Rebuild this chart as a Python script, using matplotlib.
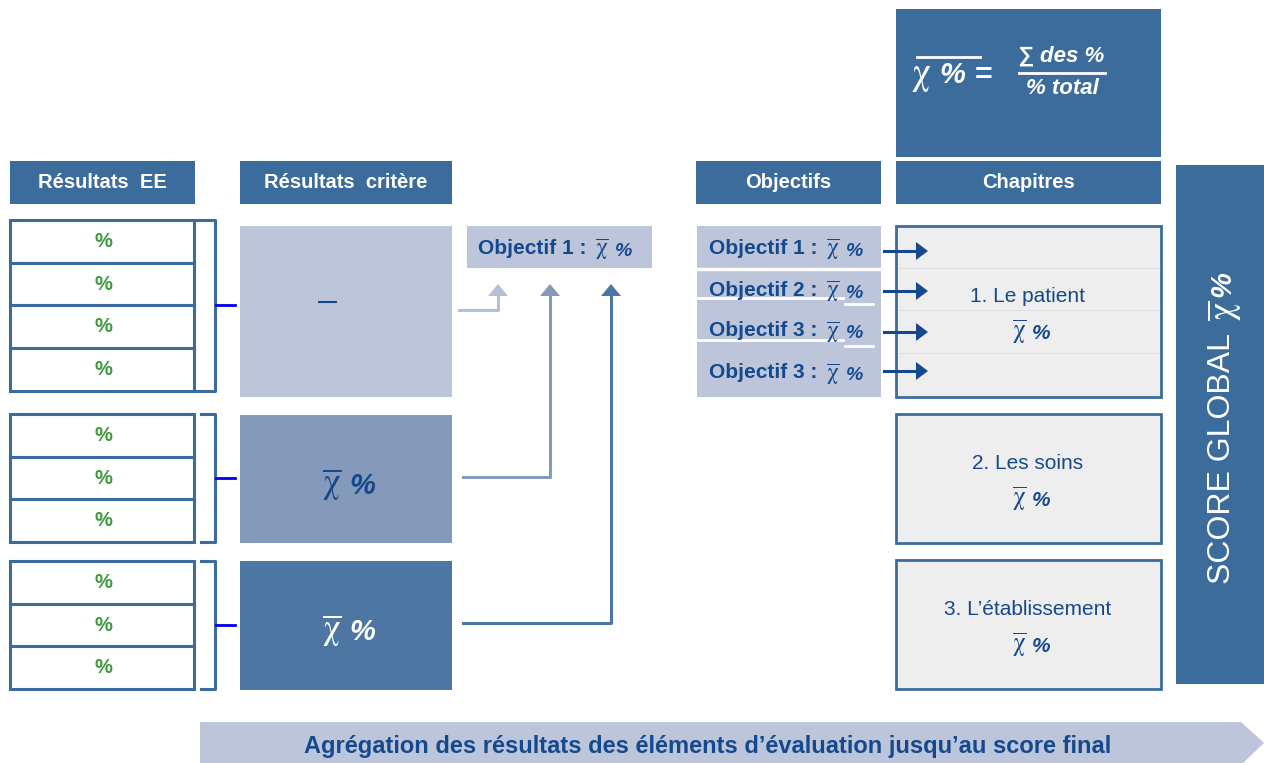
#PURPOSE: diagram of how evaluation results are aggregated up to the global score

import matplotlib.pyplot as plt
from matplotlib.patches import Rectangle, Polygon

plt.rcParams['font.family'] = ['Liberation Sans', 'DejaVu Sans']

# labels of the diagram
headers = ['Résultats  EE', 'Résultats  critère', 'Objectifs', 'Chapitres']
ee_counts = [4, 3, 3]          # number of EE results per criterion
ee_label = '%'
objectives = ['Objectif 1 :', 'Objectif 2 :', 'Objectif 3 :', 'Objectif 3 :']
single_objective = 'Objectif 1 :'
chapters = ['1. Le patient', '2. Les soins', '3. L’établissement']
score_label = 'SCORE GLOBAL'
formula_top = '∑ des %'
formula_bottom = '% total'
footer = 'Agrégation des résultats des éléments d’évaluation jusqu’au score final'

# colours
dark = '#3C6C9C'
light = '#BCC5DA'
medium = '#8599BA'
deep = '#4E76A3'
navy = '#15498E'
green = '#3F9A3F'

CHI = r'$\overline{\mathrm{\chi}}$'
MATHFONT = 'stix'

fig = plt.figure(figsize=(12.64, 7.63), dpi=100)
ax = fig.add_axes([0, 0, 1, 1])
ax.set_xlim(0, 1264)
ax.set_ylim(763, 0)
ax.axis('off')


def box(x0, x1, y0, y1, fc, ec='none', lw=0):
    '''draw a rectangle given its pixel edges'''
    ax.add_patch(Rectangle((x0, y0), x1 - x0, y1 - y0, facecolor=fc,
                           edgecolor=ec, linewidth=lw))


def chi_pct(x, y, size, color):
    '''write "chi bar %" with the join between the two signs at x'''
    ax.text(x, y - size * 0.1, CHI, math_fontfamily=MATHFONT, fontsize=size * 1.2,
            color=color, ha='right', va='center')
    ax.text(x + size * 0.4, y, '%', fontsize=size, fontweight='bold',
            style='italic', color=color, ha='left', va='center')


#headers
header_x = [(10, 195), (240, 452), (696, 881), (896, 1161)]
for (x0, x1), label in zip(header_x, headers):
    box(x0, x1, 161, 204, dark)
    ax.text((x0 + x1) / 2, 183, label, color='white', fontsize=14.5,
            fontweight='bold', ha='center', va='center')

#formula box
box(896, 1161, 9, 157, dark)
ax.text(931, 76, r'$\mathrm{\chi}$', math_fontfamily=MATHFONT, fontsize=27,
        color='white', ha='right', va='center')
ax.text(939, 75, '%', fontsize=21, fontweight='bold', style='italic',
        color='white', ha='left', va='center')
ax.plot([917, 980], [57, 57], color='white', lw=2)
ax.text(984, 76, '=', fontsize=22, fontweight='bold', color='white',
        ha='center', va='center')
ax.text(1061, 56, formula_top, fontsize=16, fontweight='bold', style='italic',
        color='white', ha='center', va='center')
ax.plot([1019, 1105], [73, 73], color='white', lw=2)
ax.text(1062, 88, formula_bottom, fontsize=16, fontweight='bold', style='italic',
        color='white', ha='center', va='center')

#EE results with their brackets
group_tops = [220, 414, 561]
row_h = 42.7
for g, (top, n) in enumerate(zip(group_tops, ee_counts)):
    for i in range(n):
        y0 = top + i * row_h
        box(10, 194, y0, y0 + row_h, 'white', dark, 2.2)
        ax.text(103, y0 + row_h / 2, ee_label, color=green, fontsize=14.5,
                fontweight='bold', ha='center', va='center')
    bottom = top + n * row_h
    bx0 = 194 if g == 0 else 201
    ax.plot([bx0, 215, 215, bx0], [top, top, bottom, bottom], color=dark, lw=2.2)
    mid = (top + bottom) / 2
    ax.plot([216, 235], [mid, mid], color='#0000EE', lw=2)

#criterion results
crit_y = [(226, 397), (415, 543), (561, 690)]
crit_col = [light, medium, deep]
for (y0, y1), c in zip(crit_y, crit_col):
    box(240, 452, y0, y1, c)
ax.plot([319, 336], [302, 302], color=navy, lw=1.5)
chi_pct(341, 486, 21, navy)
chi_pct(341, 632, 21, 'white')

#objective fed by the criteria
box(467, 652, 226, 268, light)
ax.text(478, 248, single_objective, color=navy, fontsize=15, fontweight='bold',
        ha='left', va='center')
chi_pct(609, 251, 14, navy)

#elbow arrows from criteria up to the objective
arrow_x = [498, 550, 611]
start_y = [310, 477, 623]
start_x = [459, 463, 463]
for ax_x, sy, sx, c in zip(arrow_x, start_y, start_x, ['#B5C0D6', medium, deep]):
    ax.plot([sx, ax_x, ax_x], [sy, sy, 295], color=c, lw=2.2)
    ax.add_patch(Polygon([(ax_x - 10, 296), (ax_x + 10, 296), (ax_x, 284)],
                         closed=True, facecolor=c, edgecolor='none'))

#objectives column
box(697, 881, 226, 397, light)
ax.plot([697, 881], [268.5, 268.5], color='white', lw=2.5)
for yy in [298, 340]:
    ax.plot([697, 843], [yy, yy], color='white', lw=2)
    ax.plot([845, 873], [yy + 6, yy + 6], color='white', lw=2)
obj_y = [248, 290, 331, 373]
for label, yy in zip(objectives, obj_y):
    ax.text(709, yy, label, color=navy, fontsize=15, fontweight='bold',
            ha='left', va='center')
    chi_pct(840, yy + 3, 14, navy)

#chapters
chap_y = [(226, 397), (414, 543), (560, 689)]
for (y0, y1), label in zip(chap_y, chapters):
    box(896, 1161, y0, y1, '#EEEEEE', dark, 2)
    mid = (y0 + y1) / 2
    ax.text(1028, mid - 15, label, color=navy, fontsize=15, ha='center', va='center')
    chi_pct(1026, mid + 22, 15, navy)
for yy in [268, 310, 353]:
    ax.plot([898, 1159], [yy, yy], color='#DCE0E8', lw=0.8)

#arrows from objectives into chapter 1
for yy in [251, 291, 332, 371]:
    ax.plot([884, 918], [yy, yy], color=navy, lw=2.2)
    ax.add_patch(Polygon([(916, yy - 9), (916, yy + 9), (928, yy)], closed=True,
                         facecolor=navy, edgecolor='none'))

#global score bar
box(1176, 1264, 165, 684, dark)
ax.text(1222, 458, score_label, rotation=90, color='white', fontsize=23,
        ha='center', va='center')
ax.text(1225, 311, CHI, math_fontfamily=MATHFONT, rotation=90, color='white',
        fontsize=26, ha='center', va='center')
ax.text(1222, 284, '%', rotation=90, color='white', fontsize=21, fontweight='bold',
        style='italic', ha='center', va='center')

#bottom arrow
ax.add_patch(Polygon([(200, 722), (1241, 722), (1264, 743), (1241, 765), (200, 765)],
                     closed=True, facecolor=light, edgecolor='none'))
ax.text(708, 746, footer, color=navy, fontsize=17, fontweight='bold',
        ha='center', va='center')

plt.savefig('out.png', dpi=100)
